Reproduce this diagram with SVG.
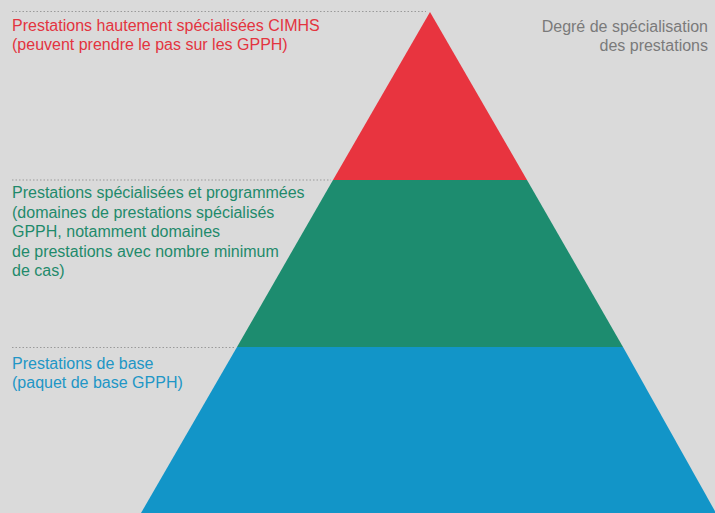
<svg xmlns="http://www.w3.org/2000/svg" width="715" height="513" viewBox="0 0 715 513">
  <style>
    text { font-family: "Liberation Sans", Arial, sans-serif; font-size: 16px; }
    .red { fill: #e3343f; }
    .green { fill: #1f8a6b; }
    .blue { fill: #2196c6; }
    .grey { fill: #7a7a7a; }
    .guide { fill: none; stroke: #9a9a9a; stroke-width: 1; stroke-dasharray: 1.5 2; }
  </style>
  <rect width="715" height="513" fill="#dadada"/>

  <!-- dotted guide lines from the labels to the pyramid tiers -->
  <g id="connectors">
    <line class="guide" x1="12" y1="11.5" x2="426" y2="11.5"/>
    <line class="guide" x1="12" y1="180" x2="331" y2="180"/>
    <line class="guide" x1="12" y1="347.5" x2="234" y2="347.5"/>
  </g>

  <!-- top tier -->
  <g id="tier-top">
    <polygon points="430,12 527,180 333,180" fill="#e8343f"/>
    <text class="red" x="12" y="31">Prestations hautement spécialisées CIMHS</text>
    <text class="red" x="12" y="50">(peuvent prendre le pas sur les GPPH)</text>
  </g>

  <!-- middle tier -->
  <g id="tier-middle">
    <polygon points="333,180 527,180 623,347 237,347" fill="#1d8c6f"/>
    <text class="green" x="12" y="198">Prestations spécialisées et programmées</text>
    <text class="green" x="12" y="218">(domaines de prestations spécialisés</text>
    <text class="green" x="12" y="237">GPPH, notamment domaines</text>
    <text class="green" x="12" y="257">de prestations avec nombre minimum</text>
    <text class="green" x="12" y="276">de cas)</text>
  </g>

  <!-- base tier -->
  <g id="tier-base">
    <polygon points="237,347 623,347 716,513 141,513" fill="#1295c8"/>
    <text class="blue" x="12" y="369">Prestations de base</text>
    <text class="blue" x="12" y="388">(paquet de base GPPH)</text>
  </g>

  <!-- axis caption -->
  <g id="caption">
    <text class="grey" x="708" y="32" text-anchor="end">Degré de spécialisation</text>
    <text class="grey" x="708" y="51" text-anchor="end">des prestations</text>
  </g>
</svg>
